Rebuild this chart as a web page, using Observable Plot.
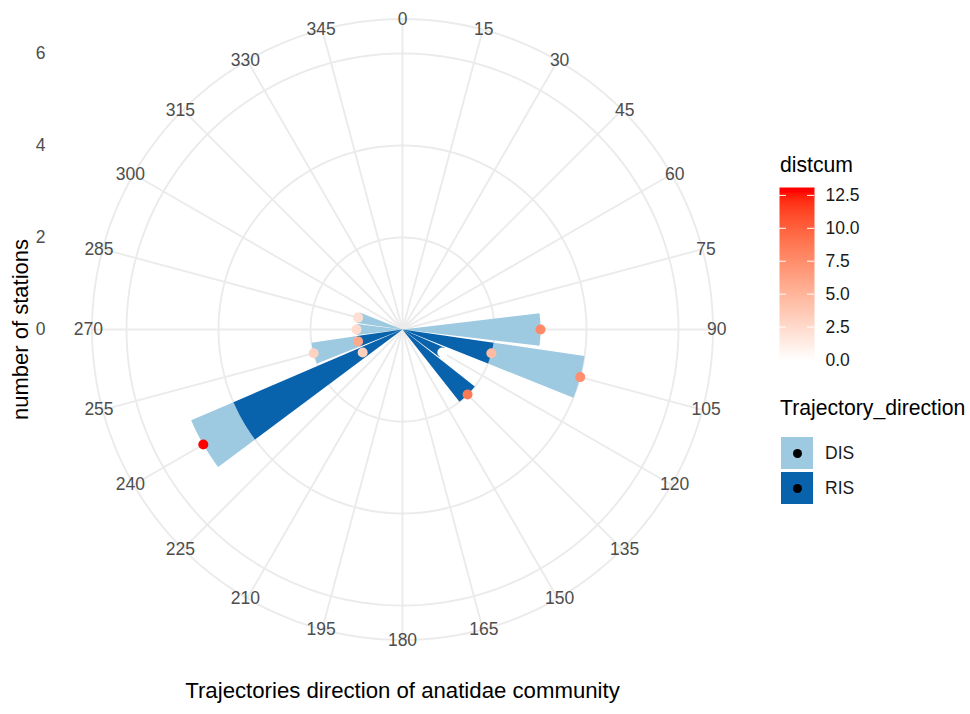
<!DOCTYPE html>
<html><head><meta charset="utf-8">
<script src="https://cdn.jsdelivr.net/npm/d3@7"></script>
<script src="https://cdn.jsdelivr.net/npm/@observablehq/plot@0.6"></script>
<style>
body{margin:0;background:#fff;font-family:"Liberation Sans",Arial,Helvetica,sans-serif;}
#wrap{position:relative;width:970px;height:714px;overflow:hidden;}
.abs{position:absolute;white-space:nowrap;}
.ttl{font-size:21.2px;color:#000;line-height:26px;}
.lbl{font-size:17.5px;color:#1a1a1a;line-height:20px;}
.key{position:absolute;width:32px;height:32px;}
.key .dot{position:absolute;left:11.5px;top:11.5px;width:9px;height:9px;border-radius:50%;background:#000;}
</style></head>
<body><div id="wrap"></div>
<script>
// ---- data ----
const barDirection  = [90, 105, 105, 120, 135, 240, 240, 255, 255, 270, 285];
const barTrajectory = ["DIS","RIS","DIS","RIS","RIS","RIS","DIS","RIS","DIS","DIS","DIS"];
const barStations   = [3, 2, 2, 1, 2, 4, 1, 1, 1, 1, 1];

const pointDirection = [90, 105, 105, 120, 135, 240, 240, 255, 255, 270, 285];
const pointStations  = [3, 2, 4, 1, 2, 1, 5, 1, 2, 1, 1];
const pointDistcum   = [7.8, 4.5, 7.4, 0, 8.7, 3.2, 12.8, 5.8, 3.0, 2.4, 2.2];

const thetaBreaks  = [0,15,30,45,60,75,90,105,120,135,150,165,180,195,210,225,240,255,270,285,300,315,330,345];
const radialBreaks = [0, 2, 4, 6];
const colorBreaks  = [0, 2.5, 5, 7.5, 10, 12.5];
const trajLevels   = ["DIS", "RIS"];
const trajColors   = ["#9ECAE1", "#0862AC"];

// ---- geometry helpers (polar -> cartesian in data units) ----
const rad = d => d * Math.PI / 180;
const px = (r, a) => r * Math.sin(rad(a));
const py = (r, a) => r * Math.cos(rad(a));
const R_MAX = 6, R_OUT = R_MAX * 1.125, BAR_W = 13.5;

// stack RIS at bottom, DIS on top
const bars = barDirection.map((d, i) => ({dir: d, traj: barTrajectory[i], n: barStations[i]}));
const segs = [];
for (const dir of [...new Set(barDirection)]) {
  let base = 0;
  for (const t of ["RIS", "DIS"]) {
    for (const b of bars.filter(b => b.dir === dir && b.traj === t)) {
      segs.push({dir, traj: t, r0: base, r1: base + b.n});
      base += b.n;
    }
  }
}
const wedgeRows = [];
segs.forEach((s, k) => {
  const steps = 30, a0 = s.dir - BAR_W / 2;
  for (let i = 0; i <= steps; i++) { const a = a0 + BAR_W * i / steps; wedgeRows.push({id: k, traj: s.traj, x: px(s.r1, a), y: py(s.r1, a)}); }
  for (let i = steps; i >= 0; i--) { const a = a0 + BAR_W * i / steps; wedgeRows.push({id: k, traj: s.traj, x: px(s.r0, a), y: py(s.r0, a)}); }
});

const circleRows = [];
[...radialBreaks.filter(r => r > 0), R_OUT].forEach(r => {
  for (let a = 0; a <= 360; a += 2) circleRows.push({r, x: px(r, a), y: py(r, a)});
});

const points = pointDirection.map((d, i) => ({x: px(pointStations[i], d), y: py(pointStations[i], d), distcum: pointDistcum[i]}));

// ---- layout: centre (402,329), 46 px per station ----
const W = 970, H = 714, CX = 402, CY = 329, K = 46, ML = 50, MR = 10;
const colorScale = {type: "linear", domain: [0, 12.8], range: ["white", "red"], interpolate: "lab", clamp: true};

const main = Plot.plot({
  width: W, height: H, marginLeft: ML, marginRight: MR, marginTop: 0, marginBottom: 0,
  style: {fontFamily: "Liberation Sans, Arial, Helvetica, sans-serif", background: "white", overflow: "visible"},
  x: {domain: [(ML - CX) / K, (W - MR - CX) / K], axis: null},
  y: {domain: [(CY - H) / K, CY / K]},
  color: colorScale,
  marks: [
    Plot.line(circleRows, {x: "x", y: "y", z: "r", stroke: "#EBEBEB", strokeWidth: 1.9}),
    Plot.link(thetaBreaks, {x1: 0, y1: 0, x2: d => px(R_OUT, d), y2: d => py(R_OUT, d), stroke: "#EBEBEB", strokeWidth: 1.9}),
    Plot.line(wedgeRows.filter(d => d.traj === "DIS"), {x: "x", y: "y", z: "id", fill: trajColors[0], stroke: "none", curve: "linear-closed"}),
    Plot.line(wedgeRows.filter(d => d.traj === "RIS"), {x: "x", y: "y", z: "id", fill: trajColors[1], stroke: "none", curve: "linear-closed"}),
    Plot.dot(points, {x: "x", y: "y", fill: "distcum", r: 5, stroke: "none"}),
    Plot.text(thetaBreaks, {x: d => px(R_OUT, d) * 1.012, y: d => py(R_OUT, d), text: d => String(d), fontSize: 17.5, fill: "#4D4D4D"}),
    Plot.axisY(radialBreaks, {anchor: "left", tickSize: 0, tickPadding: 5, fontSize: 17.5, fill: "#4D4D4D", label: null}),
    Plot.text(["number of stations"], {frameAnchor: "left", textAnchor: "middle", dx: -30, dy: CY - H / 2, rotate: -90, fontSize: 22, fill: "#000"}),
    Plot.text(["Trajectories direction of anatidae community"], {frameAnchor: "bottom", textAnchor: "middle", dx: CX - (ML + W - MR) / 2, dy: -17, fontSize: 22.2, fill: "#000"})
  ]
});

const wrap = document.getElementById("wrap");
wrap.appendChild(main);
main.style.position = "absolute"; main.style.left = "0px"; main.style.top = "0px";

// ---- colour bar legend ----
const cb = Plot.plot({
  width: 100, height: 195, marginLeft: 0, marginRight: 65, marginTop: 10, marginBottom: 12.5,
  style: {fontFamily: "Liberation Sans, Arial, Helvetica, sans-serif", background: "transparent", overflow: "visible"},
  x: {domain: [0, 1], axis: null},
  y: {domain: [0, 13.1], axis: null},
  color: colorScale,
  marks: [
    Plot.raster({fill: (x, y) => y, x1: 0, x2: 1, y1: 0, y2: 13.1, width: 2, height: 200, imageRendering: "auto"}),
    Plot.ruleY(colorBreaks, {x1: 0, x2: 0.2, stroke: "white", strokeWidth: 1}),
    Plot.ruleY(colorBreaks, {x1: 0.8, x2: 1, stroke: "white", strokeWidth: 1}),
    Plot.axisY(colorBreaks, {anchor: "right", tickSize: 0, tickPadding: 11, tickFormat: d => d.toFixed(1), fontSize: 17.5, fill: "#1a1a1a", label: null})
  ]
});
cb.style.position = "absolute"; cb.style.left = "779px"; cb.style.top = "177px";
wrap.appendChild(cb);

function addDiv(cls, text, left, top) {
  const d = document.createElement("div"); d.className = "abs " + cls; d.textContent = text;
  d.style.left = left + "px"; d.style.top = top + "px"; wrap.appendChild(d); return d;
}
addDiv("ttl", "distcum", 780, 152);
addDiv("ttl", "Trajectory_direction", 780, 395);
trajLevels.forEach((t, i) => {
  const k = document.createElement("div"); k.className = "key";
  k.style.left = "781px"; k.style.top = (437 + i * 35) + "px"; k.style.background = trajColors[i];
  const dot = document.createElement("div"); dot.className = "dot"; k.appendChild(dot); wrap.appendChild(k);
  addDiv("lbl", t, 825, 443 + i * 35);
});
</script>
</body></html>
